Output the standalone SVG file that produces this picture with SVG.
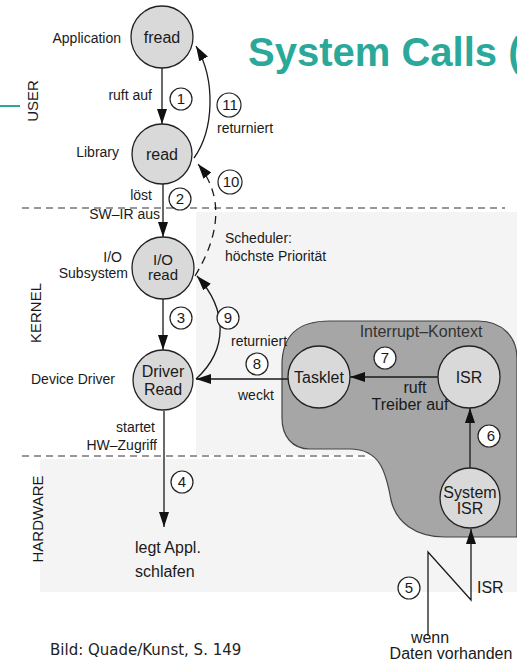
<svg xmlns="http://www.w3.org/2000/svg" width="517" height="662" viewBox="0 0 517 662">
<style>
text{font-family:"Liberation Sans",Arial,sans-serif;fill:#1a1a1a}
.n{fill:#d9d9d9;stroke:#222;stroke-width:1.3}
.nt{font-size:16px;text-anchor:middle}
.sl{font-size:14px;text-anchor:end}
.lb{font-size:14px}
.lb16{font-size:16px}
.num circle{fill:#fff;stroke:#222;stroke-width:1.2}
.num text{font-size:15px;text-anchor:middle}
.ln{fill:none;stroke:#1a1a1a;stroke-width:1.3}
.dash{fill:none;stroke:#333;stroke-width:1.1;stroke-dasharray:7 5}
.vt{font-size:15px;text-anchor:middle}
</style>
<defs>
<marker id="ah" markerUnits="userSpaceOnUse" markerWidth="16" markerHeight="10" refX="15" refY="5" orient="auto">
<path d="M0,0 L15,5 L0,10 Z" fill="#111"/>
</marker>
</defs>
<rect width="517" height="662" fill="#fff"/>
<g id="scan-bg" fill="#f4f4f4">
<rect x="196" y="212" width="321" height="243"/>
<rect x="40" y="459" width="477" height="133"/>
</g>
<g id="title">
<line x1="0" y1="106" x2="20" y2="106" stroke="#2aa99b" stroke-width="2"/>
<text x="248" y="66" style="font-size:40px;font-weight:bold;fill:#2aa99b">System Calls (</text>
</g>
<g id="layers">
<line class="dash" x1="22" y1="208" x2="505" y2="208"/>
<line class="dash" x1="22" y1="456" x2="370" y2="456"/>
<text class="vt" transform="translate(38,101) rotate(-90)">USER</text>
<text class="vt" transform="translate(41,313) rotate(-90)">KERNEL</text>
<text class="vt" transform="translate(43,519) rotate(-90)">HARDWARE</text>
</g>
<g id="interrupt-kontext">
<path d="M282 365 C282 333 300 321 330 321 L478 321 C503 321 517 338 517 358 L517 537 L445 537 C415 537 396 522 391 500 C386 472 380 449 350 449 L310 449 C292 449 282 436 282 418 Z" fill="#a6a6a6" stroke="#444" stroke-width="1.2"/>
<text x="421" y="337" style="font-size:16px;text-anchor:middle;fill:#333">Interrupt–Kontext</text>
</g>
<g id="connectors">
<line class="ln" x1="162" y1="68" x2="162" y2="124" marker-end="url(#ah)"/>
<line class="ln" x1="163" y1="184" x2="163" y2="237" marker-end="url(#ah)"/>
<line class="ln" x1="163" y1="299" x2="163" y2="350" marker-end="url(#ah)"/>
<line class="ln" x1="164" y1="411" x2="164" y2="527" marker-end="url(#ah)"/>
<path class="ln" d="M194 158 C214 130 216 80 196 46" marker-end="url(#ah)"/>
<path class="ln" d="M195 276 Q235 210 198 164" stroke-dasharray="8 6" marker-end="url(#ah)"/>
<path class="ln" d="M196 379 C228 350 228 310 197 276" marker-end="url(#ah)"/>
<line class="ln" x1="288" y1="379" x2="196" y2="379" marker-end="url(#ah)"/>
<line class="ln" x1="438" y1="377" x2="350" y2="377" marker-end="url(#ah)"/>
<line class="ln" x1="470" y1="468" x2="470" y2="408" marker-end="url(#ah)"/>
<path class="ln" d="M428 636 L428 552 L471 600 L471 529" marker-end="url(#ah)"/>
</g>
<g id="labels">
<text class="sl" x="152" y="100">ruft auf</text>
<text class="sl" x="152" y="200">löst</text>
<text class="sl" x="160" y="219">SW–IR aus</text>
<text class="sl" x="155" y="432">startet</text>
<text class="sl" x="157" y="450">HW–Zugriff</text>
<text class="lb" x="217" y="133">returniert</text>
<text class="lb" x="225" y="243">Scheduler:</text>
<text class="lb" x="225" y="261">höchste Priorität</text>
<text class="lb" x="231" y="346">returniert</text>
<text class="lb" x="238" y="400">weckt</text>
<text class="lb16" x="415" y="393" text-anchor="middle">ruft</text>
<text class="lb16" x="410" y="410" text-anchor="middle">Treiber auf</text>
<text class="lb16" x="135" y="553">legt Appl.</text>
<text class="lb16" x="135" y="577">schlafen</text>
<text class="lb16" x="477" y="593">ISR</text>
<text class="lb16" x="430" y="643" text-anchor="middle">wenn</text>
<text class="lb16" x="451" y="659" text-anchor="middle">Daten vorhanden</text>
<text x="50" y="655" style="font-family:'DejaVu Sans',Verdana,sans-serif;font-size:15px;fill:#222">Bild: Quade/Kunst, S. 149</text>
</g>
<g id="steps" class="num">
<g id="step1"><circle cx="181" cy="99" r="11"/><text x="181" y="104">1</text></g>
<g id="step2"><circle cx="180" cy="199" r="11"/><text x="180" y="204">2</text></g>
<g id="step3"><circle cx="181" cy="318" r="11"/><text x="181" y="323">3</text></g>
<g id="step4"><circle cx="182" cy="482" r="11"/><text x="182" y="487">4</text></g>
<g id="step5"><circle cx="409" cy="588" r="11"/><text x="409" y="593">5</text></g>
<g id="step6"><circle cx="489" cy="436" r="11"/><text x="491" y="441">6</text></g>
<g id="step7"><circle cx="385" cy="358" r="11"/><text x="385" y="363">7</text></g>
<g id="step8"><circle cx="257" cy="364" r="11"/><text x="257" y="369">8</text></g>
<g id="step9"><circle cx="228" cy="318" r="11"/><text x="228" y="323">9</text></g>
<g id="step10"><circle cx="230" cy="182" r="12"/><text x="231" y="187">10</text></g>
<g id="step11"><circle cx="229" cy="105" r="12"/><text x="230" y="110">11</text></g>
</g>
<g id="node-fread">
<circle class="n" cx="162" cy="37" r="31"/>
<text class="nt" x="162" y="43">fread</text>
<text class="sl" x="121" y="43">Application</text>
</g>
<g id="node-read">
<circle class="n" cx="162" cy="154" r="30"/>
<text class="nt" x="162" y="160">read</text>
<text class="sl" x="119" y="157">Library</text>
</g>
<g id="node-io-read">
<circle class="n" cx="163" cy="268" r="31"/>
<text class="nt" x="163" y="265" style="font-size:15px">I/O</text>
<text class="nt" x="163" y="280" style="font-size:15px">read</text>
<text class="sl" x="122" y="262">I/O</text>
<text class="sl" x="128" y="278">Subsystem</text>
</g>
<g id="node-driver-read">
<circle class="n" cx="163" cy="380" r="30"/>
<text class="nt" x="163" y="377">Driver</text>
<text class="nt" x="163" y="395">Read</text>
<text class="sl" x="115" y="384">Device Driver</text>
</g>
<g id="node-tasklet">
<circle class="n" cx="319" cy="377" r="31"/>
<text class="nt" x="319" y="383">Tasklet</text>
</g>
<g id="node-isr">
<circle class="n" cx="469" cy="377" r="31"/>
<text class="nt" x="469" y="383">ISR</text>
</g>
<g id="node-system-isr">
<circle class="n" cx="470" cy="498" r="30"/>
<text class="nt" x="470" y="498">System</text>
<text class="nt" x="470" y="514">ISR</text>
</g>
</svg>
